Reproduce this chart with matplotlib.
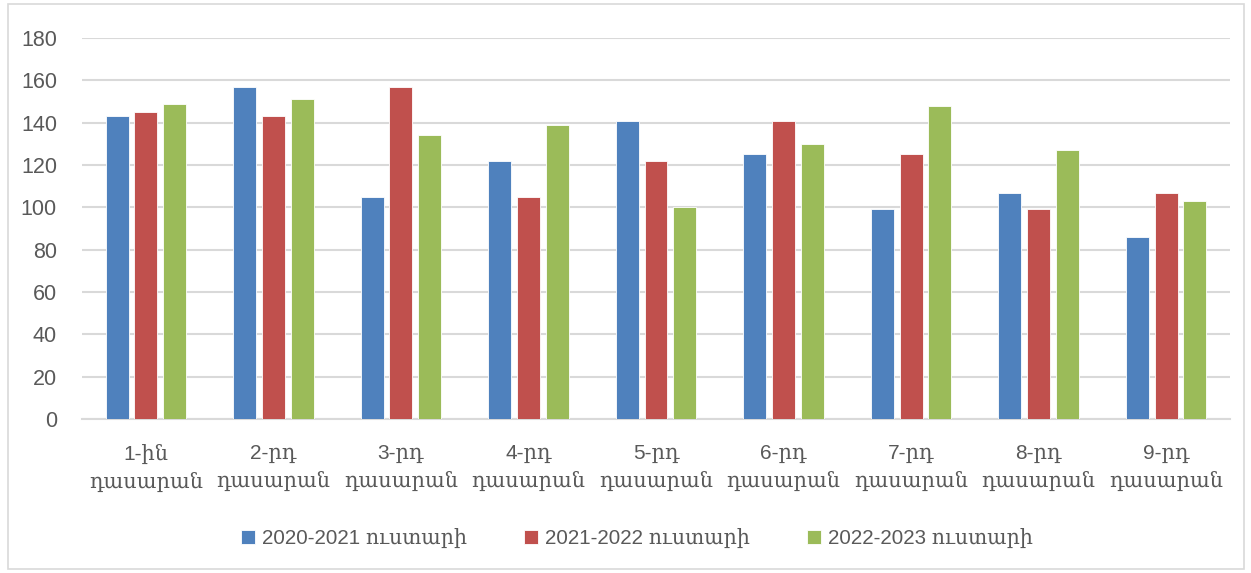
import matplotlib.pyplot as plt
import numpy as np
from matplotlib.patches import Rectangle

# Տվյալներ
categories = ["1-ին\nդասարան", "2-րդ\nդասարան", "3-րդ\nդասարան", "4-րդ\nդասարան",
              "5-րդ\nդասարան", "6-րդ\nդասարան", "7-րդ\nդասարան", "8-րդ\nդասարան",
              "9-րդ\nդասարան"]
series_names = ["2020-2021 ուստարի", "2021-2022 ուստարի", "2022-2023 ուստարի"]
y2020 = [143, 157, 105, 122, 141, 125, 99, 107, 86]
y2021 = [145, 143, 157, 105, 122, 141, 125, 99, 107]
y2022 = [149, 151, 134, 139, 100, 130, 148, 127, 103]
yticks = [0, 20, 40, 60, 80, 100, 120, 140, 160, 180]

colors = ['#4f81bd', '#c0504d', '#9bbb59']
fam = ['Liberation Sans', 'DejaVu Serif']
txt = '#595959'

fig = plt.figure(figsize=(12.51, 5.73), dpi=100)
ax = fig.add_axes([82 / 1251, 1 - 419 / 573, 1148 / 1251, 381 / 573])

x = np.arange(len(categories))
w = 0.18
step = 0.225
for i, vals in enumerate([y2020, y2021, y2022]):
    ax.bar(x + (i - 1) * step, vals, w, color=colors[i], edgecolor='white',
           linewidth=0.6, label=series_names[i], zorder=3)

ax.set_xlim(-0.5, len(categories) - 0.5)
ax.set_ylim(0, 180)
ax.set_yticks(yticks)
ax.set_xticks(x)
ax.set_xticklabels(categories, family=fam, fontsize=15, color=txt, linespacing=1.5)
for lab in ax.get_yticklabels():
    lab.set_family(fam)
    lab.set_fontsize(15.5)
    lab.set_color(txt)
ax.tick_params(axis='both', length=0)
ax.tick_params(axis='y', pad=18)
ax.tick_params(axis='x', pad=18)
ax.grid(axis='y', color='#d9d9d9', linewidth=1.5, zorder=0)
for s in ['top', 'right', 'left']:
    ax.spines[s].set_visible(False)
ax.spines['bottom'].set_color('#d9d9d9')
ax.spines['bottom'].set_linewidth(1.5)

leg = fig.legend(loc='center', bbox_to_anchor=(0.509, 1 - 538 / 573), ncol=3,
                 frameon=False, prop={'family': fam, 'size': 14.8},
                 handlelength=0.7, handleheight=0.7, handletextpad=0.3,
                 columnspacing=2.8)
for t in leg.get_texts():
    t.set_color(txt)

fig.patches.append(Rectangle((8 / 1251, 4 / 573), 1236 / 1251, 565 / 573,
                             transform=fig.transFigure, fill=False,
                             edgecolor='#d9d9d9', linewidth=1.2))

fig.savefig('out.png', dpi=100)
